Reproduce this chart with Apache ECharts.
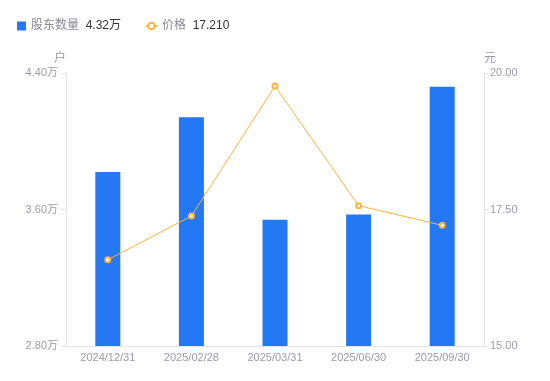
<!DOCTYPE html>
<html>
<head>
<meta charset="utf-8">
<script src="https://cdn.jsdelivr.net/npm/echarts@6/dist/echarts.min.js"></script>
<style>
  html, body { margin: 0; padding: 0; background: #fff; }
  #chart { width: 550px; height: 381px; }
</style>
</head>
<body>
<div id="chart"></div>
<script>
const categories = ['2024/12/31', '2025/02/28', '2025/03/31', '2025/06/30', '2025/09/30'];
const holders = [3.82, 4.14, 3.54, 3.57, 4.32]; // 万户
const prices = [16.58, 17.38, 19.76, 17.57, 17.21]; // 元
const leftTicks = { min: 2.8, max: 4.4, interval: 0.8 };
const rightTicks = { min: 15, max: 20, interval: 2.5 };

const legendValues = {
  '股东数量': holders[holders.length - 1].toFixed(2) + '万',
  '价格': prices[prices.length - 1].toFixed(3)
};

const myChart = echarts.init(document.getElementById('chart'), null, { renderer: 'canvas' });

const fontFamily = '"Liberation Sans", "Noto Sans CJK SC", sans-serif';
const axisLabelColor = '#9b9bab';
const axisLineColor = '#e3e3e8';

const legendText = {
  fontFamily,
  rich: {
    n: { color: '#8a8a99', fontSize: 12, fontFamily },
    v: { color: '#333', fontSize: 12, fontFamily }
  }
};
const legendFormatter = (name) => `{n|${name}}  {v|${legendValues[name]}}`;

const option = {
  backgroundColor: '#fff',
  textStyle: { fontFamily },
  legend: [
    {
      left: 12,
      top: 15,
      itemWidth: 9,
      itemHeight: 9,
      data: [{ name: '股东数量', icon: 'rect' }],
      formatter: legendFormatter,
      textStyle: legendText
    },
    {
      left: 140,
      top: 15,
      itemWidth: 11,
      itemHeight: 8,
      data: [{ name: '价格' }],
      formatter: legendFormatter,
      textStyle: legendText
    }
  ],
  grid: { left: 66, right: 66, top: 73, bottom: 35, containLabel: false },
  xAxis: {
    type: 'category',
    data: categories,
    axisTick: { show: false },
    axisLine: { lineStyle: { color: axisLineColor } },
    axisLabel: { color: axisLabelColor, fontSize: 11, margin: 6 }
  },
  yAxis: [
    {
      type: 'value',
      name: '户',
      nameGap: 8,
      nameTextStyle: { color: axisLabelColor, fontSize: 12, align: 'right' },
      min: leftTicks.min,
      max: leftTicks.max,
      interval: leftTicks.interval,
      splitLine: { show: false },
      axisLine: { show: true, lineStyle: { color: axisLineColor } },
      axisTick: { show: true, length: 5, lineStyle: { color: axisLineColor } },
      axisLabel: {
        color: axisLabelColor,
        fontSize: 11,
        margin: 8,
        formatter: (v) => v.toFixed(2) + '万'
      }
    },
    {
      type: 'value',
      name: '元',
      nameGap: 8,
      nameTextStyle: { color: axisLabelColor, fontSize: 12, align: 'left' },
      min: rightTicks.min,
      max: rightTicks.max,
      interval: rightTicks.interval,
      splitLine: { show: false },
      axisLine: { show: true, lineStyle: { color: axisLineColor } },
      axisTick: { show: true, length: 4, lineStyle: { color: axisLineColor } },
      axisLabel: {
        color: axisLabelColor,
        fontSize: 11,
        margin: 6,
        formatter: (v) => v.toFixed(2)
      }
    }
  ],
  series: [
    {
      name: '股东数量',
      type: 'bar',
      yAxisIndex: 0,
      data: holders,
      barWidth: 25,
      itemStyle: { color: '#2478f4' }
    },
    {
      name: '价格',
      type: 'line',
      yAxisIndex: 1,
      data: prices,
      symbol: 'emptyCircle',
      symbolSize: 5,
      itemStyle: { color: '#ffb23a', borderWidth: 2 },
      lineStyle: { color: '#ffb23a', width: 1 }
    }
  ]
};

myChart.setOption(option);
</script>
</body>
</html>
